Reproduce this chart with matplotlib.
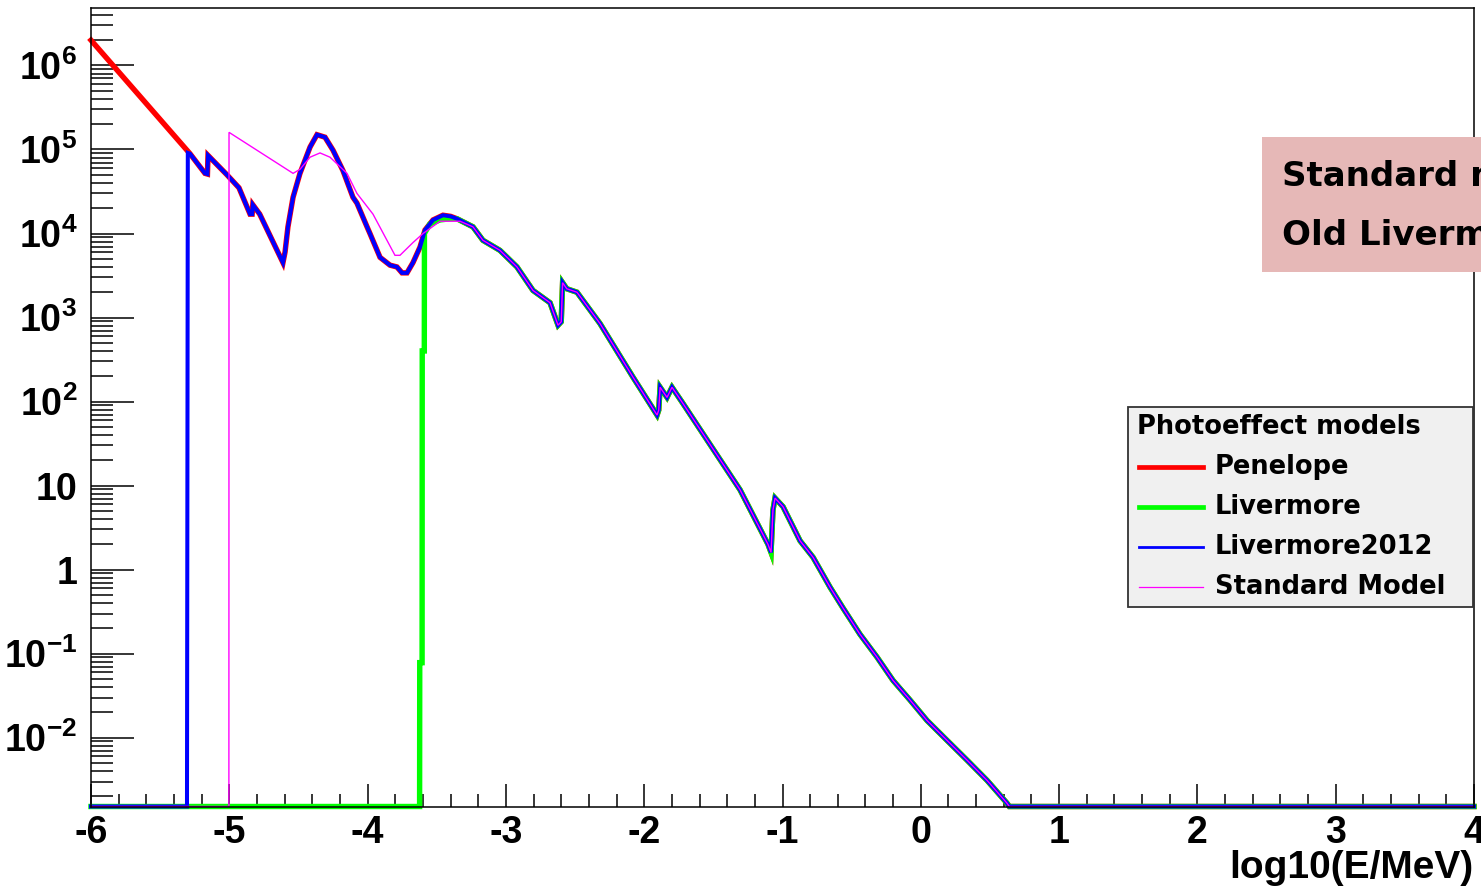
import numpy as np
import matplotlib.pyplot as plt
from matplotlib.ticker import LogLocator, FuncFormatter, MultipleLocator, NullFormatter
from matplotlib.patches import Rectangle
from matplotlib.lines import Line2D

plt.rcParams['font.family'] = ['Liberation Sans', 'DejaVu Sans']
plt.rcParams['font.weight'] = 'bold'
plt.rcParams['axes.unicode_minus'] = False
plt.rcParams['mathtext.fontset'] = 'custom'
plt.rcParams['mathtext.rm'] = 'Liberation Sans:bold'
plt.rcParams['mathtext.it'] = 'Liberation Sans:bold'
plt.rcParams['mathtext.bf'] = 'Liberation Sans:bold'

# --- spectra: log10(E/MeV) vs counts (0 = empty bin) ---
# Penelope only: continuum below the K/L shells
loge_pen_start = [-6.00]
n_pen_start = [2.0e6]

# Livermore2012 only: starts at its lower energy limit
loge_liv12_start = [-6.00, -5.306, -5.300]
n_liv12_start = [0, 0, 9.1e4]

# shell-edge region shared by Penelope and Livermore2012
loge_shell = [-5.284, -5.176, -5.158, -5.154, -5.017, -4.93, -4.85, -4.835, -4.83, -4.78,
              -4.612, -4.597, -4.576, -4.539, -4.489, -4.416, -4.366, -4.308, -4.250, -4.178,
              -4.106, -4.077, -4.004, -3.983, -3.910, -3.838, -3.788, -3.751, -3.715, -3.672,
              -3.621, -3.585, -3.527, -3.455, -3.40, -3.354, -3.238]
n_shell = [8.9e4, 5.2e4, 5.1e4, 8.5e4, 5.0e4, 3.5e4, 1.7e4, 1.7e4, 2.2e4, 1.7e4,
           4.5e3, 6.0e3, 1.2e4, 2.7e4, 5.2e4, 1.07e5, 1.5e5, 1.4e5, 9.8e4, 5.6e4,
           2.7e4, 2.3e4, 1.2e4, 1.0e4, 5.2e3, 4.2e3, 4.0e3, 3.4e3, 3.4e3, 4.5e3,
           6.9e3, 1.1e4, 1.45e4, 1.65e4, 1.6e4, 1.5e4, 1.2e4]

# old Livermore: nothing below ~250 eV
loge_liv_start = [-6.00, -3.624, -3.623, -3.606, -3.605, -3.590, -3.589, -3.55, -3.476, -3.40,
                  -3.354, -3.238]
n_liv_start = [0, 0, 0.078, 0.078, 4.0e2, 4.0e2, 1.0e4, 1.3e4, 1.45e4, 1.5e4,
               1.5e4, 1.2e4]

# standard model: starts at 10 eV, coarse below 1 keV
loge_std_start = [-6.00, -5.003, -5.002, -4.539, -4.489, -4.416, -4.344, -4.272, -4.149, -4.077,
                  -3.961, -3.802, -3.766, -3.672, -3.599, -3.476, -3.332, -3.238]
n_std_start = [0, 0, 1.6e5, 5.2e4, 5.8e4, 8.1e4, 9.1e4, 8.1e4, 5.2e4, 3.0e4,
               1.7e4, 5.5e3, 5.5e3, 7.8e3, 1.0e4, 1.4e4, 1.4e4, 1.2e4]

# common high-energy part, all four models agree
loge_tail = [-3.166, -3.043, -2.92, -2.804, -2.681, -2.623, -2.600, -2.590, -2.56, -2.486,
             -2.37, -2.32, -2.081, -1.907, -1.895, -1.885, -1.835, -1.799, -1.720, -1.546,
             -1.307, -1.105, -1.083, -1.069, -1.054, -0.996, -0.873, -0.779, -0.657, -0.563,
             -0.440, -0.317, -0.201, -0.078, 0.045, 0.189, 0.334, 0.479, 0.623, 0.640,
             4.00]
n_tail = [8.3e3, 6.3e3, 4.0e3, 2.1e3, 1.5e3, 8.1e2, 8.9e2, 2.6e3, 2.2e3, 2.0e3,
          1.1e3, 8.5e2, 1.95e2, 69, 79, 148, 112, 148, 95, 35,
          8.9, 2.0, 1.6, 5.1, 7.1, 5.6, 2.2, 1.4, 0.62, 0.35,
          0.17, 0.091, 0.048, 0.028, 0.016, 9.3e-3, 5.4e-3, 3.1e-3, 1.66e-3, 0,
          0]

models = ['Penelope', 'Livermore', 'Livermore2012', 'Standard Model']
colors = ['#ff0000', '#00ff00', '#0000ff', '#ff00ff']
widths = [3.9, 3.9, 2.9, 1.0]

ymin, ymax = 10 ** -2.82, 10 ** 6.69

series = {
    'Penelope': (loge_pen_start + loge_shell + loge_tail, n_pen_start + n_shell + n_tail),
    'Livermore': (loge_liv_start + loge_tail, n_liv_start + n_tail),
    'Livermore2012': (loge_liv12_start + loge_shell + loge_tail, n_liv12_start + n_shell + n_tail),
    'Standard Model': (loge_std_start + loge_tail, n_std_start + n_tail),
}

W, H = 1481, 889
fig = plt.figure(figsize=(W / 100, H / 100), dpi=100)
ax = fig.add_axes([91 / W, 1 - 806.5 / H, 1383 / W, 799 / H])

for name, c, lw in zip(models, colors, widths):
    x, n = series[name]
    n = np.asarray(n, dtype=float)
    # empty bins sit on the bottom of the frame
    ax.plot(x, np.where(n > 0, n, ymin), color=c, lw=lw, clip_on=False,
            solid_joinstyle='miter')

ax.set_yscale('log')
ax.set_xlim(-6, 4)
ax.set_ylim(ymin, ymax)

ax.xaxis.set_major_locator(MultipleLocator(1))
ax.xaxis.set_minor_locator(MultipleLocator(0.2))
ax.yaxis.set_major_locator(LogLocator(base=10, numticks=20))
ax.yaxis.set_minor_locator(LogLocator(base=10, subs=np.arange(2, 10), numticks=20))
ax.yaxis.set_minor_formatter(NullFormatter())


def decade(v, pos):
    e = int(round(np.log10(v)))
    if e == 0:
        return '1'
    if e == 1:
        return '10'
    return r'$10^{%d}$' % e


ax.yaxis.set_major_formatter(FuncFormatter(decade))

ax.tick_params(axis='both', which='both', direction='in', width=1.1, labelsize=27,
               top=False, right=False)
ax.tick_params(axis='x', which='major', length=16.5, pad=6)
ax.tick_params(axis='x', which='minor', length=9.4)
ax.tick_params(axis='y', which='major', length=31, pad=10)
ax.tick_params(axis='y', which='minor', length=16)
for s in ax.spines.values():
    s.set_linewidth(1.1)

fig.text(1473 / W, 1 - 868 / H, 'log10(E/MeV)', ha='right', va='center', fontsize=28,
         fontweight='bold')


# legend box
def fx(px):
    return px / W


def fy(py):
    return 1 - py / H


fig.add_artist(Rectangle((fx(1128), fy(607)), fx(1473) - fx(1128), fy(407) - fy(607),
                         transform=fig.transFigure, facecolor='#f0f0f0',
                         edgecolor='#333333', lw=1.3, zorder=5))
fig.text(fx(1137), fy(427), 'Photoeffect models', ha='left', va='center', fontsize=18.5,
         fontweight='bold', family='DejaVu Sans', zorder=6)
rows = [467, 507, 547, 587]
for name, c, lw, r in zip(models, colors, [3.4, 3.4, 2.0, 0.9], rows):
    fig.add_artist(Line2D([fx(1139), fx(1203)], [fy(r), fy(r)], transform=fig.transFigure,
                          color=c, lw=lw, zorder=6))
    fig.text(fx(1215), fy(r), name, ha='left', va='center', fontsize=18.5,
             fontweight='bold', family='DejaVu Sans', zorder=6)

# note box
fig.add_artist(Rectangle((fx(1262), fy(272)), fx(1500) - fx(1262), fy(137) - fy(272),
                         transform=fig.transFigure, facecolor='#e6b8b7',
                         edgecolor='none', zorder=7))
fig.text(fx(1282), fy(177), 'Standard model', ha='left', va='center', fontsize=24.5,
         fontweight='bold', family='DejaVu Sans', zorder=8)
fig.text(fx(1282), fy(235), 'Old Livermore', ha='left', va='center', fontsize=24.5,
         fontweight='bold', family='DejaVu Sans', zorder=8)

fig.savefig('out.png', dpi=100)
